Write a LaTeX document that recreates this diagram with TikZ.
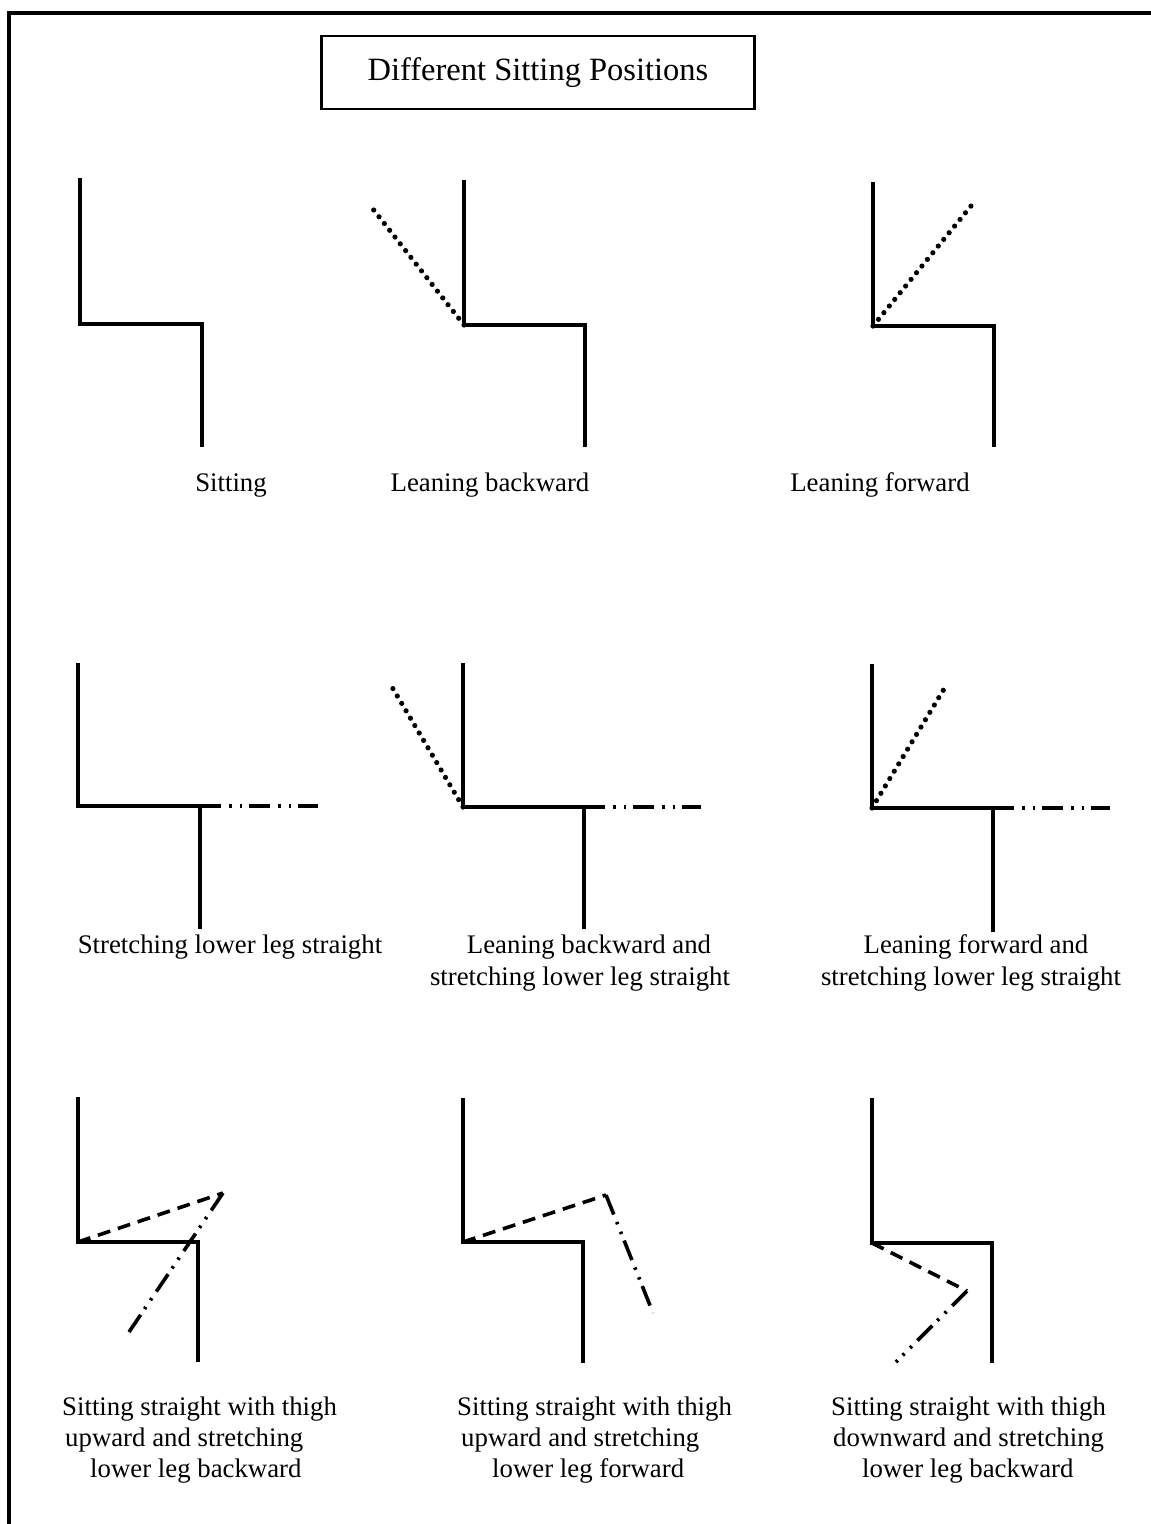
\documentclass[tikz,border=0pt]{standalone}
\usepackage{fontspec}
\setmainfont{Liberation Serif}
\begin{document}
\begin{tikzpicture}[x=1pt,y=-1pt,
  body/.style={line width=3.3pt,line cap=butt,line join=miter},
  frame/.style={line width=3.2pt},
  dotline/.style={line width=5.2pt,line cap=round,dash pattern=on 0pt off 8.6pt},
  dashline/.style={line width=3.6pt,dash pattern=on 13pt off 8pt},
  ddline/.style={line width=3.6pt,dash pattern=on 21pt off 8pt on 2.5pt off 8pt on 2.5pt off 7pt},
  lbl/.style={font=\fontsize{26.8}{31}\selectfont,inner sep=0pt,anchor=base},
  lblw/.style={font=\fontsize{26.8}{31}\selectfont,inner sep=0pt,anchor=base west}]
\useasboundingbox (0,0) rectangle (1151,1524);
% outer frame
\coordinate (fl) at (9,1524);
\coordinate (fc) at (9,13);
\coordinate (fr) at (1151,13);
\draw[frame] (fl) -- (fc) -- (fr);
% title
\node[draw,line width=2.8pt,minimum width=433pt,minimum height=73pt,inner sep=0pt,
  font=\fontsize{32.5}{38}\selectfont] (title) at (538,72.5) {Different Sitting Positions};

% ---------- Row 1 ----------
% Sitting
\coordinate (a1) at (80,178); \coordinate (a2) at (80,324);
\coordinate (a3) at (202,324); \coordinate (a4) at (202,447);
\draw[body] (a1) -- (a2) -- (a3) -- (a4);
\node[lbl] (la) at (231,491) {Sitting};
% Leaning backward
\coordinate (b1) at (464,180); \coordinate (b2) at (464,325);
\coordinate (b3) at (585,325); \coordinate (b4) at (585,447);
\coordinate (bt) at (369,204);
\draw[body] (b1) -- (b2) -- (b3) -- (b4);
\draw[dotline] (b2) -- (bt);
\node[lbl] (lb) at (490,491) {Leaning backward};
% Leaning forward
\coordinate (c1) at (873,182); \coordinate (c2) at (873,326);
\coordinate (c3) at (994,326); \coordinate (c4) at (994,447);
\coordinate (ct) at (971,206);
\draw[body] (c1) -- (c2) -- (c3) -- (c4);
\draw[dotline] (c2) -- (ct);
\node[lbl] (lc) at (880,491) {Leaning forward};

% ---------- Row 2 ----------
% Stretching lower leg straight
\coordinate (d1) at (78,663); \coordinate (d2) at (78,806);
\coordinate (d3) at (200,806); \coordinate (d4) at (200,929);
\coordinate (dx) at (318,806);
\draw[body] (d1) -- (d2) -- (d3) -- (d4);
\draw[ddline] (d3) -- (dx);
\node[lbl] (ld) at (230,953) {Stretching lower leg straight};
% Leaning backward and stretching
\coordinate (e1) at (463,663); \coordinate (e2) at (463,807);
\coordinate (e3) at (584,807); \coordinate (e4) at (584,929);
\coordinate (ex) at (701,807); \coordinate (et) at (392,687);
\draw[body] (e1) -- (e2) -- (e3) -- (e4);
\draw[ddline] (e3) -- (ex);
\draw[dotline] (e2) -- (et);
\node[lbl] (le1) at (589,953) {Leaning backward and};
\node[lbl] (le2) at (580,985) {stretching lower leg straight};
% Leaning forward and stretching
\coordinate (f1) at (872,664); \coordinate (f2) at (872,808);
\coordinate (f3) at (993,808); \coordinate (f4) at (993,932);
\coordinate (fx) at (1110,808); \coordinate (ft) at (944,689);
\draw[body] (f1) -- (f2) -- (f3) -- (f4);
\draw[ddline] (f3) -- (fx);
\draw[dotline] (f2) -- (ft);
\node[lbl] (lf1) at (976,953) {Leaning forward and};
\node[lbl] (lf2) at (971,985) {stretching lower leg straight};

% ---------- Row 3 ----------
% thigh upward, lower leg backward
\coordinate (g1) at (78,1097); \coordinate (g2) at (78,1242);
\coordinate (g3) at (198,1242); \coordinate (g4) at (198,1362);
\coordinate (gk) at (223,1193); \coordinate (gf) at (129,1332);
\draw[body] (g1) -- (g2) -- (g3) -- (g4);
\draw[dashline] (g2) -- (gk);
\draw[ddline] (gk) -- (gf);
\node[lblw] (lg1) at (62,1415) {Sitting straight with thigh};
\node[lblw] (lg2) at (65,1446) {upward and stretching};
\node[lblw] (lg3) at (90,1477) {lower leg backward};
% thigh upward, lower leg forward
\coordinate (h1) at (463,1098); \coordinate (h2) at (463,1242);
\coordinate (h3) at (583,1242); \coordinate (h4) at (583,1363);
\coordinate (hk) at (606,1195); \coordinate (hf) at (653,1313);
\draw[body] (h1) -- (h2) -- (h3) -- (h4);
\draw[dashline] (h2) -- (hk);
\draw[ddline] (hk) -- (hf);
\node[lblw] (lh1) at (457,1415) {Sitting straight with thigh};
\node[lblw] (lh2) at (461,1446) {upward and stretching};
\node[lblw] (lh3) at (492,1477) {lower leg forward};
% thigh downward, lower leg backward
\coordinate (i1) at (872,1098); \coordinate (i2) at (872,1243);
\coordinate (i3) at (992,1243); \coordinate (i4) at (992,1363);
\coordinate (ik) at (967,1291); \coordinate (if) at (896,1362);
\draw[body] (i1) -- (i2) -- (i3) -- (i4);
\draw[dashline] (i2) -- (ik);
\draw[ddline] (ik) -- (if);
\node[lblw] (li1) at (831,1415) {Sitting straight with thigh};
\node[lblw] (li2) at (833,1446) {downward and stretching};
\node[lblw] (li3) at (862,1477) {lower leg backward};
\end{tikzpicture}
\end{document}
